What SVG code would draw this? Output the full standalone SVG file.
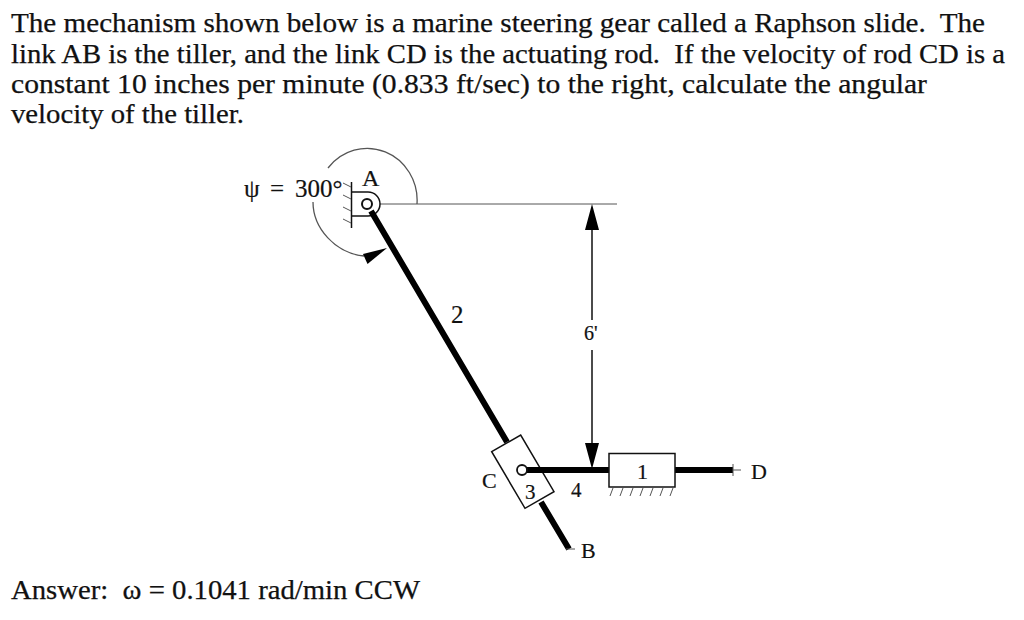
<svg xmlns="http://www.w3.org/2000/svg" width="1024" height="620" viewBox="0 0 1024 620">
<style>
.t{font-family:"Liberation Serif","DejaVu Serif",serif;font-size:27px;fill:#111;stroke:#111;stroke-width:.25;white-space:pre}
.l{font-family:"Liberation Serif",serif;font-size:22px;fill:#111;stroke:#111;stroke-width:.2}
.th{fill:none;stroke:#111;stroke-width:1.5}
.hair{fill:none;stroke:#555;stroke-width:1}
.rod{fill:none;stroke:#000;stroke-width:6}
</style>
<rect width="1024" height="620" fill="#fff"/>
<g id="statement">
<text class="t" x="11" y="32" textLength="974" lengthAdjust="spacingAndGlyphs" xml:space="preserve">The mechanism shown below is a marine steering gear called a Raphson slide.  The</text>
<text class="t" x="11" y="63" textLength="994" lengthAdjust="spacingAndGlyphs" xml:space="preserve">link AB is the tiller, and the link CD is the actuating rod.  If the velocity of rod CD is a</text>
<text class="t" x="11" y="93" textLength="916" lengthAdjust="spacingAndGlyphs">constant 10 inches per minute (0.833 ft/sec) to the right, calculate the angular</text>
<text class="t" x="11" y="123" textLength="233" lengthAdjust="spacingAndGlyphs">velocity of the tiller.</text>
<text class="t" x="11" y="599" textLength="409" lengthAdjust="spacingAndGlyphs" xml:space="preserve">Answer:  ω = 0.1041 rad/min CCW</text>
</g>
<g id="connectors">
<path class="hair" d="M380 204H617"/>
<path class="th" d="M592 226V320M592 350V445"/>
<path d="M592 204L585 230H599Z M592 469L585 443H599Z" fill="#000"/>
<path class="hair" style="stroke-width:1.300" d="M417 204A50 52 0 0 0 328 168M313 202C313 228 335 253 364 256"/>
<path d="M387 248L363 254L367.500 264Z" fill="#000"/>
<text class="l" x="584" y="340" style="font-size:20px">6'</text>
</g>
<g id="node-A">
<path class="th" d="M351.500 182V228M352 192H368A12 12 0 0 1 368 216H352"/>
<path class="hair" d="M351 187L343 183M351 199L343 195M351 211L343 207M351 223L343 219"/>
<text class="l" x="362" y="186" style="font-size:24px">A</text>
<text class="l" y="197" style="font-size:25px"><tspan x="244">ψ</tspan><tspan x="270">=</tspan><tspan x="295">300°</tspan></text>
</g>
<g id="node-tiller">
<path class="rod" d="M371 211L507 442M541 502L569 549"/>
<path class="hair" d="M566 549H575"/>
<text class="l" x="451" y="323" style="font-size:25px">2</text>
<text class="l" x="581" y="558" style="font-size:22px">B</text>
</g>
<g id="node-slider">
<path d="M491.700 451.700L520.700 435L554 491.700L525 508.300Z" fill="#fff" stroke="#111" stroke-width="1.500"/>
<text class="l" x="482" y="488" style="font-size:22px">C</text>
<text class="l" x="525" y="499" style="font-size:21px">3</text>
</g>
<g id="node-rod">
<path class="rod" d="M527 470H609M675 470H733"/>
<path class="hair" d="M733 464V476M733 470H741"/>
<text class="l" x="571" y="497" style="font-size:21px">4</text>
<text class="l" x="751" y="479" style="font-size:22px">D</text>
</g>
<g id="node-pin">
<circle cx="367" cy="204" r="5" fill="#fff" stroke="#111" stroke-width="2"/>
<circle cx="522" cy="470" r="5" fill="#fff" stroke="#111" stroke-width="1.800"/>
</g>
<g id="node-guide">
<rect x="609" y="453.500" width="66" height="33.500" fill="#fff" stroke="#111" stroke-width="1.500"/>
<text class="l" x="637" y="479" style="font-size:22px">1</text>
<path class="hair" d="M613 488L610 496M623 488L620 496M633 488L630 496M643 488L640 496M653 488L650 496M663 488L660 496M673 488L670 496"/>
</g>
</svg>
